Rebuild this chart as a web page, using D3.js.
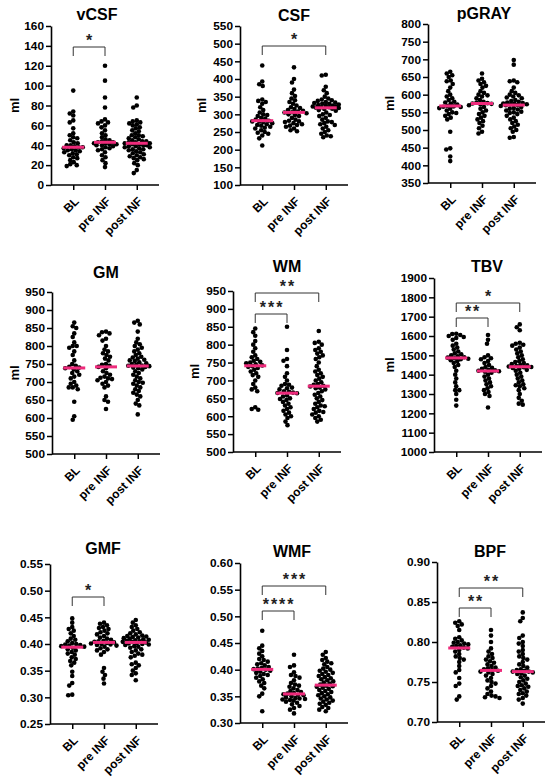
<!DOCTYPE html>
<html>
<head>
<meta charset="utf-8">
<script src="https://cdn.jsdelivr.net/npm/d3@7"></script>
<style>
  body { margin: 0; background: #fff; }
  svg { display: block; font-family: "Liberation Sans", Arial, sans-serif; font-weight: bold; }
</style>
</head>
<body>
<div id="chart"></div>
<script>
// Groups
const cats = ["BL", "pre INF", "post INF"];

// vCSF (ml)
const vcsfBL = [95, 74, 72, 70, 65, 63, 57, 52, 50, 48, 47, 45, 43, 42, 40, 40, 39, 38, 38, 37, 36, 35, 35, 34, 33, 32, 31, 30, 28, 27, 25, 23, 21, 20, 19];
const vcsfPre = [120, 105, 88, 78, 66, 64, 63, 62, 60, 58, 55, 52, 50, 48, 46, 45, 44, 43, 43, 42, 42, 41, 41, 40, 40, 39, 38, 37, 36, 35, 33, 30, 28, 25, 22, 18];
const vcsfPost = [88, 80, 78, 65, 64, 63, 62, 61, 60, 58, 57, 55, 54, 52, 50, 50, 49, 48, 47, 46, 45, 44, 44, 43, 43, 42, 42, 41, 41, 40, 40, 39, 39, 38, 38, 37, 36, 36, 35, 34, 33, 32, 31, 30, 29, 28, 27, 26, 25, 22, 20, 15, 12];
const vcsfTicks = [0, 20, 40, 60, 80, 100, 120, 140, 160];

// CSF (ml)
const csfBL = [438, 393, 385, 380, 342, 338, 335, 330, 320, 312, 305, 300, 298, 295, 290, 288, 285, 282, 280, 280, 278, 275, 272, 270, 268, 265, 262, 260, 255, 250, 248, 245, 240, 232, 212];
const csfPre = [433, 400, 390, 370, 360, 352, 345, 340, 335, 330, 325, 320, 318, 315, 312, 310, 308, 306, 305, 303, 300, 298, 295, 290, 285, 282, 280, 278, 275, 272, 270, 268, 265, 260, 255, 252];
const csfPost = [412, 410, 378, 368, 360, 350, 345, 342, 340, 338, 335, 333, 332, 330, 330, 328, 326, 325, 324, 322, 321, 320, 320, 319, 318, 316, 315, 312, 310, 305, 300, 298, 295, 290, 285, 280, 278, 275, 272, 270, 265, 260, 255, 250, 245, 240, 238, 235];
const csfTicks = [100, 150, 200, 250, 300, 350, 400, 450, 500, 550];

// pGRAY (ml)
const pgrayBL = [665, 660, 655, 650, 640, 638, 630, 620, 610, 600, 595, 590, 585, 580, 578, 575, 572, 567, 568, 566, 565, 562, 560, 555, 550, 548, 545, 540, 535, 530, 495, 448, 445, 425, 412];
const pgrayPre = [660, 645, 640, 635, 630, 625, 620, 610, 605, 600, 598, 595, 590, 585, 580, 578, 576, 575, 574, 572, 570, 565, 560, 555, 550, 545, 540, 535, 530, 525, 520, 512, 505, 495, 490];
const pgrayPost = [698, 685, 640, 638, 635, 620, 610, 605, 600, 598, 595, 592, 590, 585, 582, 580, 578, 576, 575, 574, 573, 572, 571, 570, 568, 565, 562, 560, 558, 555, 552, 550, 548, 545, 540, 535, 530, 525, 520, 515, 510, 505, 500, 495, 480, 478];
const pgrayTicks = [350, 400, 450, 500, 550, 600, 650, 700, 750, 800];

// GM (ml)
const gmBL = [865, 855, 850, 835, 825, 810, 800, 800, 795, 785, 775, 760, 750, 745, 742, 740, 738, 735, 730, 725, 720, 715, 710, 700, 695, 690, 685, 685, 680, 645, 605, 595];
const gmPre = [840, 838, 835, 830, 820, 815, 800, 790, 785, 780, 775, 770, 765, 760, 750, 748, 745, 742, 738, 730, 725, 720, 715, 712, 710, 708, 705, 700, 695, 690, 685, 660, 650, 645, 625];
const gmPost = [870, 865, 860, 840, 820, 810, 805, 800, 795, 790, 785, 780, 775, 770, 768, 765, 762, 760, 758, 755, 752, 750, 748, 746, 745, 744, 742, 740, 738, 735, 730, 725, 720, 715, 710, 705, 700, 698, 695, 690, 685, 680, 675, 670, 665, 660, 650, 640, 635, 610];
const gmTicks = [500, 550, 600, 650, 700, 750, 800, 850, 900, 950];

// WM (ml)
const wmBL = [845, 835, 825, 810, 800, 790, 780, 770, 765, 760, 755, 752, 750, 748, 745, 742, 740, 738, 735, 730, 725, 720, 715, 710, 700, 690, 680, 675, 670, 625, 620, 618];
const wmPre = [850, 785, 760, 755, 740, 720, 710, 700, 690, 688, 685, 680, 678, 675, 670, 668, 666, 665, 664, 658, 655, 650, 648, 645, 640, 635, 630, 625, 620, 615, 610, 605, 600, 595, 585, 575];
const wmPost = [838, 808, 805, 800, 790, 785, 780, 775, 770, 765, 760, 750, 740, 730, 725, 720, 715, 710, 705, 700, 695, 690, 688, 685, 683, 680, 678, 675, 670, 665, 660, 655, 650, 645, 640, 635, 630, 628, 625, 620, 615, 612, 610, 605, 600, 595, 590, 585];
const wmTicks = [500, 550, 600, 650, 700, 750, 800, 850, 900, 950];

// TBV (ml)
const tbvBL = [1612, 1610, 1605, 1600, 1595, 1590, 1580, 1560, 1550, 1540, 1530, 1520, 1510, 1505, 1500, 1495, 1490, 1488, 1485, 1482, 1480, 1475, 1470, 1460, 1450, 1440, 1420, 1400, 1380, 1360, 1340, 1320, 1320, 1300, 1270, 1240];
const tbvPre = [1605, 1580, 1560, 1500, 1490, 1485, 1480, 1470, 1460, 1450, 1440, 1435, 1430, 1425, 1422, 1420, 1418, 1415, 1410, 1400, 1390, 1380, 1370, 1360, 1350, 1340, 1330, 1320, 1310, 1300, 1290, 1230];
const tbvPost = [1660, 1645, 1630, 1565, 1560, 1555, 1550, 1540, 1530, 1520, 1510, 1500, 1490, 1480, 1470, 1465, 1460, 1455, 1450, 1448, 1445, 1442, 1440, 1438, 1435, 1430, 1425, 1420, 1410, 1400, 1390, 1380, 1370, 1360, 1350, 1345, 1340, 1330, 1320, 1300, 1280, 1265, 1250, 1245];
const tbvTicks = [1000, 1100, 1200, 1300, 1400, 1500, 1600, 1700, 1800, 1900];

// GMF
const gmfBL = [0.448, 0.440, 0.432, 0.428, 0.425, 0.420, 0.415, 0.410, 0.408, 0.405, 0.402, 0.400, 0.399, 0.398, 0.397, 0.396, 0.395, 0.393, 0.390, 0.388, 0.385, 0.382, 0.380, 0.375, 0.372, 0.368, 0.365, 0.360, 0.348, 0.340, 0.327, 0.322, 0.305, 0.304];
const gmfPre = [0.440, 0.438, 0.435, 0.432, 0.430, 0.428, 0.425, 0.422, 0.420, 0.418, 0.415, 0.412, 0.410, 0.408, 0.406, 0.405, 0.404, 0.403, 0.402, 0.401, 0.400, 0.399, 0.398, 0.397, 0.395, 0.392, 0.390, 0.388, 0.385, 0.380, 0.355, 0.348, 0.342, 0.335, 0.326];
const gmfPost = [0.445, 0.440, 0.435, 0.432, 0.428, 0.425, 0.422, 0.420, 0.418, 0.416, 0.415, 0.414, 0.413, 0.412, 0.411, 0.410, 0.409, 0.408, 0.407, 0.406, 0.405, 0.404, 0.404, 0.403, 0.402, 0.401, 0.400, 0.399, 0.398, 0.396, 0.395, 0.393, 0.390, 0.388, 0.385, 0.382, 0.380, 0.378, 0.375, 0.365, 0.362, 0.360, 0.355, 0.350, 0.345, 0.342, 0.332];
const gmfTicks = [0.25, 0.30, 0.35, 0.40, 0.45, 0.50, 0.55];

// WMF
const wmfBL = [0.473, 0.445, 0.440, 0.435, 0.430, 0.425, 0.420, 0.418, 0.415, 0.412, 0.410, 0.408, 0.405, 0.403, 0.402, 0.401, 0.400, 0.398, 0.396, 0.394, 0.392, 0.390, 0.388, 0.385, 0.382, 0.378, 0.375, 0.370, 0.365, 0.355, 0.350, 0.322];
const wmfPre = [0.428, 0.408, 0.405, 0.395, 0.390, 0.388, 0.385, 0.380, 0.375, 0.372, 0.370, 0.368, 0.365, 0.362, 0.360, 0.358, 0.356, 0.355, 0.354, 0.353, 0.352, 0.350, 0.348, 0.347, 0.346, 0.345, 0.344, 0.343, 0.342, 0.340, 0.338, 0.335, 0.332, 0.328, 0.325, 0.318];
const wmfPost = [0.433, 0.428, 0.422, 0.418, 0.415, 0.412, 0.410, 0.405, 0.402, 0.400, 0.398, 0.396, 0.394, 0.392, 0.390, 0.388, 0.386, 0.384, 0.382, 0.380, 0.378, 0.376, 0.374, 0.372, 0.370, 0.369, 0.368, 0.366, 0.364, 0.362, 0.360, 0.358, 0.356, 0.354, 0.352, 0.350, 0.348, 0.346, 0.344, 0.342, 0.340, 0.338, 0.336, 0.334, 0.330, 0.328, 0.325, 0.322];
const wmfTicks = [0.30, 0.35, 0.40, 0.45, 0.50, 0.55, 0.60];

// BPF
const bpfBL = [0.826, 0.824, 0.822, 0.820, 0.815, 0.806, 0.804, 0.802, 0.800, 0.799, 0.798, 0.797, 0.796, 0.795, 0.794, 0.793, 0.792, 0.790, 0.788, 0.785, 0.782, 0.780, 0.778, 0.775, 0.770, 0.765, 0.762, 0.755, 0.748, 0.745, 0.732, 0.728];
const bpfPre = [0.815, 0.808, 0.800, 0.792, 0.788, 0.785, 0.782, 0.780, 0.778, 0.776, 0.774, 0.772, 0.770, 0.768, 0.767, 0.766, 0.765, 0.764, 0.763, 0.762, 0.760, 0.758, 0.755, 0.752, 0.750, 0.748, 0.745, 0.742, 0.738, 0.735, 0.733, 0.732, 0.731, 0.730];
const bpfPost = [0.837, 0.830, 0.826, 0.808, 0.805, 0.800, 0.798, 0.795, 0.790, 0.788, 0.785, 0.782, 0.780, 0.778, 0.775, 0.772, 0.770, 0.768, 0.766, 0.765, 0.764, 0.763, 0.763, 0.762, 0.761, 0.760, 0.758, 0.756, 0.754, 0.752, 0.750, 0.748, 0.746, 0.745, 0.744, 0.742, 0.740, 0.738, 0.736, 0.735, 0.733, 0.730, 0.728, 0.723];
const bpfTicks = [0.70, 0.75, 0.80, 0.85, 0.90];

// Significance brackets: [from, to, stars]
const vcsfSig = [["BL", "pre INF", "*"]];
const csfSig = [["BL", "post INF", "*"]];
const wmSig = [["BL", "pre INF", "***"], ["BL", "post INF", "**"]];
const tbvSig = [["BL", "pre INF", "**"], ["BL", "post INF", "*"]];
const gmfSig = [["BL", "pre INF", "*"]];
const wmfSig = [["BL", "pre INF", "****"], ["BL", "post INF", "***"]];
const bpfSig = [["BL", "pre INF", "**"], ["BL", "post INF", "**"]];

const panels = [
    { title: "vCSF", unit: "ml", groups: [vcsfBL, vcsfPre, vcsfPost], ticks: vcsfTicks, fmt: d3.format("d"), sig: vcsfSig },
    { title: "CSF", unit: "ml", groups: [csfBL, csfPre, csfPost], ticks: csfTicks, fmt: d3.format("d"), sig: csfSig },
    { title: "pGRAY", unit: "ml", groups: [pgrayBL, pgrayPre, pgrayPost], ticks: pgrayTicks, fmt: d3.format("d"), sig: [] },
    { title: "GM", unit: "ml", groups: [gmBL, gmPre, gmPost], ticks: gmTicks, fmt: d3.format("d"), sig: [] },
    { title: "WM", unit: "ml", groups: [wmBL, wmPre, wmPost], ticks: wmTicks, fmt: d3.format("d"), sig: wmSig },
    { title: "TBV", unit: "ml", groups: [tbvBL, tbvPre, tbvPost], ticks: tbvTicks, fmt: d3.format("d"), sig: tbvSig },
    { title: "GMF", unit: "", groups: [gmfBL, gmfPre, gmfPost], ticks: gmfTicks, fmt: d3.format(".2f"), sig: gmfSig },
    { title: "WMF", unit: "", groups: [wmfBL, wmfPre, wmfPost], ticks: wmfTicks, fmt: d3.format(".2f"), sig: wmfSig },
    { title: "BPF", unit: "", groups: [bpfBL, bpfPre, bpfPost], ticks: bpfTicks, fmt: d3.format(".2f"), sig: bpfSig }
];

// Layout of each panel (axis origin, top, title, bracket heights, unit label x)
const layout = [
    { left: 51, top: 26, bottom: 185, titleX: 97, titleY: 20, unitX: 14, brackets: [47] },
    { left: 240, top: 26, bottom: 185, titleX: 294, titleY: 21, unitX: 201, brackets: [46] },
    { left: 428, top: 24, bottom: 183, titleX: 484, titleY: 19, unitX: 389, brackets: [] },
    { left: 52, top: 292, bottom: 454, titleX: 106, titleY: 278, unitX: 14, brackets: [] },
    { left: 233, top: 291, bottom: 452, titleX: 287, titleY: 272, unitX: 194, brackets: [314, 293] },
    { left: 434, top: 278, bottom: 452, titleX: 487, titleY: 272, unitX: 389, brackets: [318, 303] },
    { left: 50, top: 564, bottom: 724, titleX: 103, titleY: 554, unitX: 0, brackets: [597] },
    { left: 240, top: 563, bottom: 723, titleX: 292, titleY: 557, unitX: 0, brackets: [611, 586] },
    { left: 437, top: 562, bottom: 722, titleX: 490, titleY: 557, unitX: 0, brackets: [608, 588] }
];

const W = 550, H = 783;
const plotW = 108;
const r = 2.3;
const minDist = 3.9;
const maxOff = 13;
const pink = "#ee2a7b";
const fontStack = "'Liberation Sans', Arial, sans-serif";

const svg = d3.select("#chart")
    .append("svg")
    .attr("width", W)
    .attr("height", H);

svg.append("rect").attr("width", W).attr("height", H).attr("fill", "#fff");

// Simple dodge (beeswarm) kept inside +-maxOff; dense spots overlap a little, like the original
function swarm(values, y) {
    let placed = [];
    let sorted = values.map(v => ({ v: v, y: y(v) })).sort((a, b) => a.y - b.y);
    sorted.forEach(p => {
        let near = placed.filter(q => Math.abs(q.y - p.y) < minDist);
        let best = 0, bestGap = -1;
        for (let k = 0; ; k++) {
            let off = (k % 2 === 0 ? 1 : -1) * Math.ceil(k / 2) * 0.5;
            if (Math.abs(off) > maxOff) break;
            let gap = near.length ? d3.min(near, q => Math.hypot(q.dx - off, q.y - p.y)) : Infinity;
            if (gap >= minDist) { best = off; bestGap = gap; break; }
            if (gap > bestGap) { best = off; bestGap = gap; }
        }
        p.dx = best;
        placed.push(p);
    });
    return placed;
}

panels.forEach((panel, i) => {
    let L = layout[i];
    let g = svg.append("g").attr("transform", `translate(${L.left},0)`);

    let y = d3.scaleLinear()
        .domain(d3.extent(panel.ticks))
        .range([L.bottom, L.top]);

    let x = d3.scalePoint()
        .domain(cats)
        .range([0, plotW])
        .padding(0.7);

    // y axis
    let yAxis = g.append("g")
        .call(d3.axisLeft(y).tickValues(panel.ticks).tickFormat(panel.fmt).tickSize(5).tickSizeOuter(0));
    yAxis.select(".domain").attr("stroke-width", 1.6);
    yAxis.selectAll(".tick line").attr("stroke-width", 1.5);
    yAxis.selectAll(".tick text")
        .attr("x", -7)
        .style("font-size", "11.8px")
        .style("font-weight", "bold")
        .style("font-family", fontStack)
        .attr("fill", "#000");

    // x axis
    let xAxis = g.append("g")
        .attr("transform", `translate(0,${L.bottom})`)
        .call(d3.axisBottom(x).tickSize(5).tickSizeOuter(0));
    xAxis.select(".domain")
        .attr("d", `M0,0H${plotW}`)
        .attr("stroke-width", 1.6);
    xAxis.selectAll(".tick line").attr("stroke-width", 1.5);
    xAxis.selectAll(".tick text")
        .attr("x", null)
        .attr("y", null)
        .attr("dy", "0.35em")
        .attr("transform", "translate(3,14) rotate(-45)")
        .style("text-anchor", "end")
        .style("font-size", "12px")
        .style("font-weight", "bold")
        .style("font-family", fontStack)
        .attr("fill", "#000");

    // dots
    panel.groups.forEach((vals, j) => {
        let cx = x(cats[j]);
        let pts = swarm(vals, y);
        g.append("g")
            .selectAll("circle")
            .data(pts)
            .join("circle")
            .attr("cx", d => cx + d.dx)
            .attr("cy", d => d.y)
            .attr("r", r)
            .attr("fill", "#000");

        // median line
        let med = d3.median(vals);
        g.append("line")
            .attr("x1", cx - 11)
            .attr("x2", cx + 11)
            .attr("y1", y(med))
            .attr("y2", y(med))
            .attr("stroke", pink)
            .attr("stroke-width", 3);
    });

    // significance brackets
    panel.sig.forEach((s, k) => {
        let by = L.brackets[k];
        let x1 = x(s[0]), x2 = x(s[1]);
        g.append("path")
            .attr("d", `M${x1},${by + 9}V${by}H${x2}V${by + 9}`)
            .attr("fill", "none")
            .attr("stroke", "#333")
            .attr("stroke-width", 1);
        g.append("text")
            .attr("x", (x1 + x2) / 2 + 1)
            .attr("y", by - 1)
            .attr("text-anchor", "middle")
            .style("font-size", "16px")
            .style("letter-spacing", "2px")
            .attr("fill", "#222")
            .text(s[2]);
    });

    // title
    svg.append("text")
        .attr("x", L.titleX)
        .attr("y", L.titleY)
        .attr("text-anchor", "middle")
        .style("font-size", "16px")
        .text(panel.title);

    // unit label
    if (panel.unit) {
        svg.append("text")
            .attr("transform", `translate(${L.unitX},${(L.top + L.bottom) / 2}) rotate(-90)`)
            .attr("text-anchor", "middle")
            .attr("dy", "0.35em")
            .style("font-size", "13px")
            .text(panel.unit);
    }
});
</script>
</body>
</html>
